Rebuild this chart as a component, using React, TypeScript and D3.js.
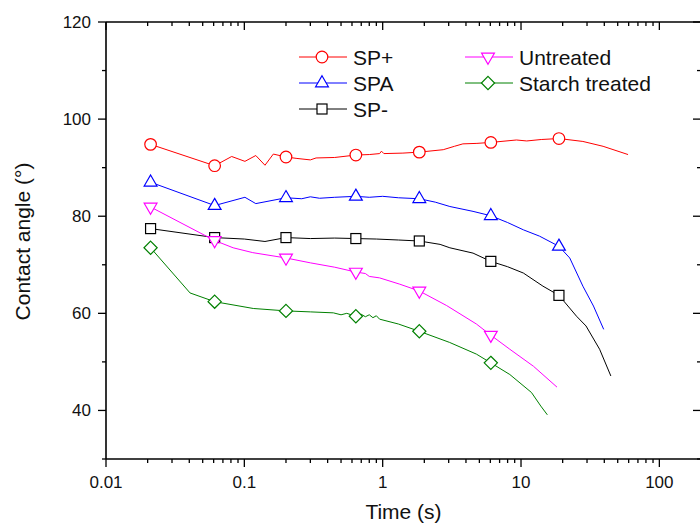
import React from 'react';
import * as d3 from 'd3';

// contact angle (deg) against time (s)
const spPlus: [number, number][] = [
  [0.021, 94.8], [0.061, 90.4], [0.081, 92.3], [0.101, 91.3], [0.121, 92.5], [0.141, 90.5],
  [0.162, 92.8], [0.2, 92.2], [0.24, 91.9], [0.3, 91.6], [0.33, 92.0], [0.45, 92.1],
  [0.64, 92.6], [0.8, 92.7], [0.95, 92.9], [0.98, 93.4], [1.02, 92.9], [1.4, 93.0],
  [1.84, 93.2], [2.74, 93.7], [3.3, 94.4], [3.8, 94.9], [4.8, 95.0], [6.05, 95.2],
  [9.27, 95.7], [11, 95.5], [14, 95.8], [18.8, 96.0], [28, 95.4], [39.2, 94.4], [59.4, 92.7],
];
const spa: [number, number][] = [
  [0.021, 87.0], [0.061, 82.2], [0.101, 83.9], [0.121, 82.6], [0.2, 83.8], [0.26, 83.6],
  [0.3, 84.0], [0.35, 83.7], [0.45, 83.9], [0.64, 84.1], [0.8, 83.9], [1.0, 84.1],
  [1.3, 83.8], [1.84, 83.6], [2.4, 82.9], [3.06, 82.0], [4.5, 81.0], [6.05, 80.1],
  [8, 78.7], [10.4, 77.2], [13.6, 75.9], [18.8, 73.8], [22.5, 71.4], [28, 65.6],
  [33.4, 61.5], [39.6, 56.7],
];
const spMinus: [number, number][] = [
  [0.021, 77.45], [0.061, 75.6], [0.1, 75.3], [0.141, 74.8], [0.2, 75.6], [0.3, 75.4],
  [0.45, 75.5], [0.64, 75.4], [0.9, 75.3], [1.3, 75.1], [1.84, 74.9], [2.6, 74.2],
  [3.06, 73.5], [4.5, 72.4], [6.05, 70.7], [8, 69.6], [10.4, 68.3], [14.4, 65.6],
  [18.8, 63.7], [25.2, 59.4], [29.5, 57.4], [37, 52.6], [44.6, 47.1],
];
const untreated: [number, number][] = [
  [0.021, 81.9], [0.061, 75.0], [0.083, 73.5], [0.115, 72.5], [0.2, 71.4], [0.3, 70.4],
  [0.45, 69.5], [0.64, 68.5], [0.75, 68.2], [0.8, 67.6], [0.95, 67.3], [1.33, 66.0],
  [1.84, 64.6], [2.9, 61.6], [4.76, 57.8], [6.05, 55.5], [8.3, 52.6], [12.3, 49.1], [18.2, 44.8],
];
const starch: [number, number][] = [
  [0.021, 73.5], [0.0405, 64.2], [0.061, 62.4], [0.116, 61.0], [0.2, 60.5], [0.3, 60.3],
  [0.44, 60.1], [0.5, 59.7], [0.55, 60.0], [0.64, 59.4], [0.7, 59.8], [0.75, 59.3],
  [0.8, 59.7], [0.85, 59.1], [0.9, 59.5], [0.95, 58.8], [1.3, 57.8], [1.84, 56.3],
  [3.05, 54.0], [4.76, 51.6], [6.05, 49.8], [8.3, 47.4], [11.9, 43.7], [13.9, 40.9], [15.5, 39.1],
];

// symbols sit on every Nth sample
const spPlusMarks: [number, number][] = [[0.021, 94.8], [0.061, 90.4], [0.2, 92.2], [0.64, 92.6], [1.84, 93.2], [6.05, 95.2], [18.8, 96.0]];
const spaMarks: [number, number][] = [[0.021, 87.0], [0.061, 82.2], [0.2, 83.8], [0.64, 84.1], [1.84, 83.6], [6.05, 80.1], [18.8, 73.8]];
const spMinusMarks: [number, number][] = [[0.021, 77.45], [0.061, 75.6], [0.2, 75.6], [0.64, 75.4], [1.84, 74.9], [6.05, 70.7], [18.8, 63.7]];
const untreatedMarks: [number, number][] = [[0.021, 81.9], [0.061, 75.0], [0.2, 71.4], [0.64, 68.5], [1.84, 64.6], [6.05, 55.5]];
const starchMarks: [number, number][] = [[0.021, 73.5], [0.061, 62.4], [0.2, 60.5], [0.64, 59.4], [1.84, 56.3], [6.05, 49.8]];

const xLabels = [0.01, 0.1, 1, 10, 100];
const yLabels = [40, 60, 80, 100, 120];

const series = [
  { name: 'SP+', color: '#ff0000', shape: 'circle', data: spPlus, marks: spPlusMarks },
  { name: 'SPA', color: '#0000ff', shape: 'up', data: spa, marks: spaMarks },
  { name: 'SP-', color: '#000000', shape: 'square', data: spMinus, marks: spMinusMarks },
  { name: 'Untreated', color: '#ff00ff', shape: 'down', data: untreated, marks: untreatedMarks },
  { name: 'Starch treated', color: '#008000', shape: 'diamond', data: starch, marks: starchMarks },
];

const W = 700, H = 525;
const left = 106, right = 701, top = 22, bottom = 459;
const font = 'Arial, "Liberation Sans", sans-serif';

function Marker({ shape, x, y, color }: { shape: string; x: number; y: number; color: string }) {
  const p = { fill: 'white', stroke: color, strokeWidth: 1.2 };
  if (shape === 'circle') return <circle cx={x} cy={y} r={5.8} {...p} />;
  if (shape === 'square') return <rect x={x - 5} y={y - 5} width={10} height={10} {...p} />;
  if (shape === 'up') return <path d={`M${x},${y - 7.2}L${x + 6.4},${y + 3.8}L${x - 6.4},${y + 3.8}Z`} {...p} />;
  if (shape === 'down') return <path d={`M${x},${y + 7.2}L${x + 6.4},${y - 3.8}L${x - 6.4},${y - 3.8}Z`} {...p} />;
  return <path d={`M${x},${y - 6.6}L${x + 6.6},${y}L${x},${y + 6.6}L${x - 6.6},${y}Z`} {...p} />;
}

export default function App() {
  const x = d3.scaleLog().domain([0.01, 200]).range([left, right]);
  const y = d3.scaleLinear().domain([30, 120]).range([bottom, top]);
  const line = d3.line<[number, number]>().x(d => x(d[0])).y(d => y(d[1]));

  const xTicks = x.ticks().filter(t => t <= 200);
  const isMajor = (t: number) => Math.abs(Math.log10(t) - Math.round(Math.log10(t))) < 1e-6;
  const yTicks = d3.range(30, 121, 10);

  const legendPos = [
    { lx: 299, ty: 57 }, { lx: 299, ty: 83 }, { lx: 299, ty: 109 },
    { lx: 465, ty: 57 }, { lx: 465, ty: 83 },
  ];

  return (
    <svg width={W} height={H} style={{ position: 'absolute', left: 0, top: 0, background: 'white' }} fontFamily={font}>
      {series.map(s => (
        <g key={s.name}>
          <path d={line(s.data) || ''} fill="none" stroke={s.color} strokeWidth={1} />
          {s.marks.map((m, i) => <Marker key={i} shape={s.shape} x={x(m[0])} y={y(m[1])} color={s.color} />)}
        </g>
      ))}

      {/* frame */}
      <g stroke="black" strokeWidth={1.6}>
        <line x1={left} x2={left} y1={top} y2={bottom} />
        <line x1={left} x2={W} y1={bottom} y2={bottom} />
        <line x1={left} x2={W} y1={top} y2={top} />
        <line x1={right} x2={right} y1={top} y2={bottom} />
      </g>
      <g stroke="black" strokeWidth={1.3}>
        {xTicks.map(t => {
          const len = isMajor(t) ? 8 : 4;
          return (
            <g key={t}>
              <line x1={x(t)} x2={x(t)} y1={bottom} y2={bottom + len} />
              <line x1={x(t)} x2={x(t)} y1={top} y2={top + len} />
            </g>
          );
        })}
        {yTicks.map(t => {
          const len = t % 20 === 0 ? 8 : 4;
          return (
            <g key={t}>
              <line x1={left} x2={left - len} y1={y(t)} y2={y(t)} />
              <line x1={right} x2={right - len} y1={y(t)} y2={y(t)} />
            </g>
          );
        })}
      </g>
      <g fontSize={17} fill="#111">
        {xLabels.map(t => (
          <text key={t} x={x(t)} y={488} textAnchor="middle">{String(t)}</text>
        ))}
        {yLabels.map(t => (
          <text key={t} x={91} y={y(t) + 6} textAnchor="end">{t}</text>
        ))}
      </g>
      <text x={(left + right) / 2} y={519} textAnchor="middle" fontSize={21} fill="#111">Time (s)</text>
      <text transform={`translate(30,${(top + bottom) / 2 + 1}) rotate(-90)`} textAnchor="middle" fontSize={21} fill="#111">
        Contact angle (°)
      </text>

      {/* legend */}
      {series.map((s, i) => {
        const p = legendPos[i];
        return (
          <g key={s.name}>
            <line x1={p.lx} x2={p.lx + 48} y1={p.ty} y2={p.ty} stroke={s.color} strokeWidth={1} />
            <Marker shape={s.shape} x={p.lx + 23} y={p.ty} color={s.color} />
            <text x={p.lx + 54} y={p.ty + 7.5} fontSize={21} fill="#111">{s.name}</text>
          </g>
        );
      })}
    </svg>
  );
}
